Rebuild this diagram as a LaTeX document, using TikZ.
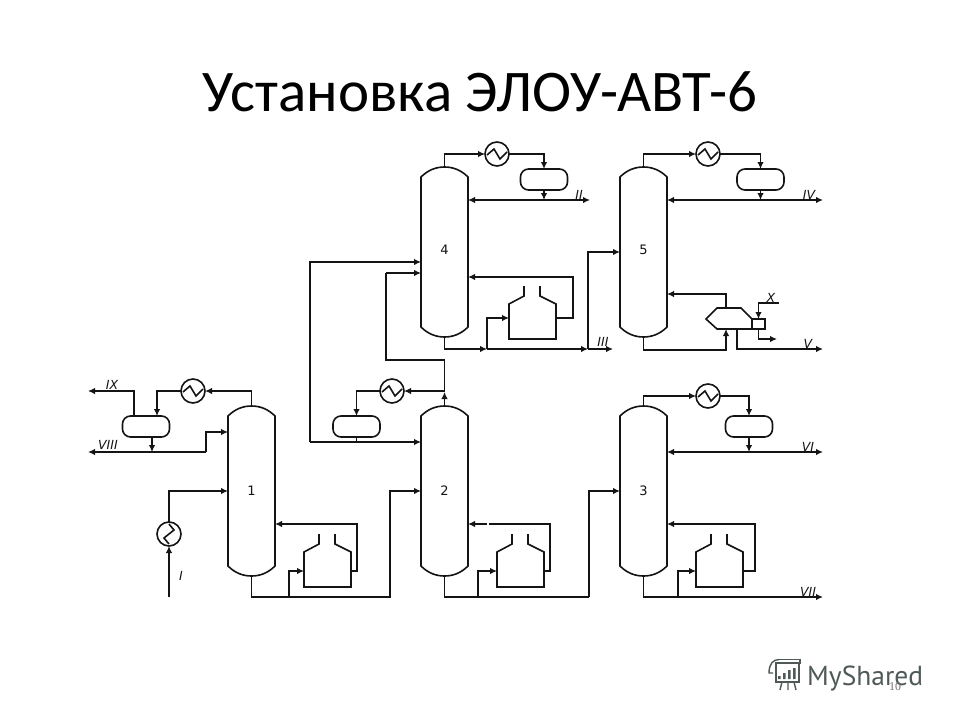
\documentclass[tikz,border=0pt]{standalone}
\usepackage{fontspec}
\setmainfont{DejaVu Sans}
\newfontfamily\titlefont{Carlito}
\newfontfamily\logofont{PT Sans}
\newfontfamily\numfont{Liberation Serif}
\usetikzlibrary{arrows.meta,calc}
\definecolor{ink}{HTML}{141414}
\definecolor{logogray}{HTML}{4F5A58}
\tikzset{
  pipe/.style={draw=ink,line width=1.6pt,line join=miter},
  flow/.style={pipe,-{Latex[length=7pt,width=6.5pt]}},
  vessel/.style={draw=ink,line width=1.6pt},
  colbox/.style={minimum width=47pt,minimum height=170pt,inner sep=0pt,outer sep=0pt,font=\fontsize{13}{15}\selectfont,text=ink},
  drumbox/.style={draw=ink,line width=1.6pt,rounded corners=8pt,minimum width=47pt,minimum height=21pt,inner sep=0pt,outer sep=0pt},
  hxbox/.style={draw=ink,line width=1.6pt,circle,minimum size=24pt,inner sep=0pt,outer sep=0pt},
  furnbox/.style={minimum width=47pt,minimum height=35pt,inner sep=0pt,outer sep=0pt},
  tag/.style={font=\fontsize{12.5}{14}\selectfont\itshape,text=ink,inner sep=0pt}
}
\newcommand{\columnshape}[1]{%
  \draw[vessel,shift={(#1.north west)}] (0,10) .. controls (7,3) and (15,0) .. (23.5,0)
    .. controls (32,0) and (40,3) .. (47,10) -- (47,160)
    .. controls (40,167) and (32,170) .. (23.5,170)
    .. controls (15,170) and (7,167) .. (0,160) -- cycle;}
\newcommand{\furnshape}[1]{%
  \draw[vessel,shift={(#1.north west)}] (15,-18) -- (15,-8) -- (0,0) -- (0,35) -- (47,35) -- (47,0) -- (31,-8) -- (31,-18);}
\newcommand{\zigh}[1]{\draw[vessel,shift={(#1.center)}] (-10,1) -- (-3,-5) -- (3,5) -- (10,-2);}
\newcommand{\zigv}[1]{\draw[vessel,shift={(#1.center)}] (0,10) -- (-5,4) -- (5,-4) -- (0,-10);}
\begin{document}
\begin{tikzpicture}[x=1pt,y=-1pt]
\useasboundingbox (0,0) rectangle (960,720);
\fill[white] (0,0) rectangle (960,720);
\node[font=\titlefont\fontsize{59}{64}\selectfont,text=black,inner sep=0pt] (title) at (480,92) {Установка ЭЛОУ-АВТ-6};

% columns
\node[colbox] (c1) at (251.5,491) {\raisebox{0pt}{1}};
\node[colbox] (c2) at (444.5,491) {2};
\node[colbox] (c3) at (643.5,491) {3};
\node[colbox] (c4) at (444.5,252) {\raisebox{5pt}{4}};
\node[colbox] (c5) at (643.5,252) {\raisebox{5pt}{5}};
\foreach \n in {c1,c2,c3,c4,c5} {\columnshape{\n}}

% heat exchangers
\node[hxbox] (h1) at (193,391) {};
\node[hxbox] (h2) at (392,391) {};
\node[hxbox] (h3) at (708,396) {};
\node[hxbox] (h4) at (497,154) {};
\node[hxbox] (h5) at (708,154) {};
\node[hxbox] (h0) at (169,534) {};
\foreach \n in {h1,h2,h3,h4,h5} {\zigh{\n}}
\zigv{h0}

% drums
\node[drumbox] (d1) at (146,426.5) {};
\node[drumbox] (d2) at (356.5,426.5) {};
\node[drumbox] (d3) at (749,426.5) {};
\node[drumbox] (d4) at (544,179.5) {};
\node[drumbox] (d5) at (760.5,179.5) {};

% furnaces
\node[furnbox] (f1) at (327.5,569.5) {};
\node[furnbox] (f2) at (520.5,569.5) {};
\node[furnbox] (f3) at (719.5,569.5) {};
\node[furnbox] (f4) at (532.5,321.5) {};
\foreach \n in {f1,f2,f3,f4} {\furnshape{\n}}

% kettle reboiler on column 5
\node[minimum width=13pt,minimum height=10pt,draw=ink,line width=1.6pt,inner sep=0pt,outer sep=0pt] (kb) at (758.5,324) {};
\draw[vessel] (kb.north west) -- (741,308) -- (717,308) -- (706,319) -- (717,329) -- (kb.south west);
\coordinate (ktop) at (726,308);
\coordinate (kbot) at (726,329);
\coordinate (kout) at (737,329);

% ---- column 1
\coordinate (ix) at (88,391);
\coordinate (viii) at (88,452);
\coordinate (feed) at (169,597);
\coordinate (m1) at (206,452);
\draw[flow] (c1.north) |- (h1.east);
\draw[flow] (h1.west) -| (d1.north -| 157,0);
\draw[flow] (d1.north -| 134,0) |- (ix);
\draw[flow] (d1.south -| 152,0) -- (152,452);
\draw[flow] (m1) -- (viii);
\draw[flow] (m1) |- (c1.west |- 0,432);
\draw[flow] (feed) -- (h0.south);
\draw[flow] (h0.north) |- (c1.west |- 0,491);
\draw[flow] (f1.east |- 0,571) -- (357,571) |- (c1.east |- 0,524);
\draw[pipe] (c1.south) |- (390,597) |- (390,491);
\coordinate (b1) at (289,597);
\draw[flow] (b1) |- (f1.west |- 0,571);
\draw[flow] (390,597) |- (c2.west |- 0,491);

% ---- column 2
\coordinate (j2) at (444.5,391);
\coordinate (r2) at (310,442);
\draw[flow] (c2.north) -- (444.5,392);
\draw[pipe] (444.5,392) -- (444.5,360) -| (386,273);
\draw[flow] (386,273) -- (c4.west |- 0,273);
\draw[flow] (j2) -- (h2.east);
\draw[flow] (h2.west) -| (d2.north);
\draw[pipe] (d2.south) -- (356.5,442);
\draw[flow] (r2) -- (c2.west |- 0,442);
\draw[flow] (r2) |- (c4.west |- 0,262);
\draw[pipe] (f2.east |- 0,571) -- (550,571) |- (489,524);
\draw[flow] (487,524) -- (c2.east |- 0,524);
\draw[pipe] (c2.south) |- (589,597);
\coordinate (b2) at (478,597);
\draw[flow] (b2) |- (f2.west |- 0,571);
\draw[flow] (589,597) |- (c3.west |- 0,491);

% ---- column 3
\coordinate (vi) at (823,452);
\coordinate (vii) at (823,597);
\draw[flow] (c3.north) |- (h3.west);
\draw[flow] (h3.east) -| (d3.north);
\draw[flow] (d3.south) -- (749,452);
\draw[flow] (749,452) -- (c3.east |- 0,452);
\draw[flow] (749,452) -- (vi);
\draw[flow] (f3.east |- 0,571) -- (755,571) |- (c3.east |- 0,524);
\draw[flow] (c3.south) |- (vii);
\coordinate (b3) at (678,597);
\draw[flow] (b3) |- (f3.west |- 0,571);

% ---- column 4
\coordinate (ii) at (590,200);
\coordinate (iii) at (613,349);
\coordinate (b4) at (487,349);
\coordinate (b5) at (588,349);
\draw[flow] (c4.north) |- (h4.west);
\draw[flow] (h4.east) -| (d4.north);
\draw[flow] (d4.south) -- (544,200);
\draw[flow] (544,200) -- (c4.east |- 0,200);
\draw[flow] (544,200) -- (ii);
\draw[flow] (f4.east |- 0,318) -- (573,318) |- (c4.east |- 0,277);
\draw[flow] (c4.south) |- (b4);
\draw[flow] (b4) -- (b5);
\draw[flow] (b5) -- (iii);
\draw[flow] (b4) |- (f4.west |- 0,318);
\draw[flow] (b5) |- (c5.west |- 0,252);

% ---- column 5
\coordinate (iv) at (823,200);
\coordinate (v) at (823,349);
\coordinate (xin) at (779,303);
\coordinate (xout) at (777,339);
\draw[flow] (c5.north) |- (h5.west);
\draw[flow] (h5.east) -| (d5.north);
\draw[flow] (d5.south) -- (760.5,200);
\draw[flow] (760.5,200) -- (c5.east |- 0,200);
\draw[flow] (760.5,200) -- (iv);
\draw[flow] (ktop) |- (c5.east |- 0,294);
\draw[flow] (c5.south) -- (643.5,350) -| (kbot);
\draw[flow] (kout) |- (v);
\draw[flow] (xin) -| (kb.north);
\draw[flow] (kb.south) |- (xout);

% stream labels
\node[tag] (tI) at (181,576) {I};
\node[tag] (tII) at (579,195) {II};
\node[tag] (tIII) at (603,342) {III};
\node[tag] (tIV) at (809,195) {IV};
\node[tag] (tV) at (808,344) {V};
\node[tag] (tVI) at (808,447) {VI};
\node[tag] (tVII) at (808,592) {VII};
\node[tag] (tVIII) at (108,445) {VIII};
\node[tag] (tIX) at (112,385) {IX};
\node[tag] (tX) at (771,298) {X};

% logo
\begin{scope}[draw=logogray,line width=1.4pt]
  \draw (779,659.5) -- (800,659.5) -- (800,663) -- (776,663) -- (776,682) -- (799,682) -- (799,663);
  \draw (779,659.5) .. controls (773,659.5) and (769,664) .. (769,673) -- (773,673);
  \draw (782,682) -- (780,690) (788,682) -- (788,690) (794,682) -- (796,690);
  \fill[logogray] (778,676) rectangle (780.5,679) (783,673) rectangle (785.5,679) (788,670) rectangle (790.5,679) (793,668) rectangle (795.5,679);
\end{scope}
\node[font=\logofont\fontsize{27.5}{30}\selectfont,text=logogray,inner sep=0pt,anchor=base west] (logo) at (807,685) {MyShared};
\node[font=\numfont\fontsize{12}{14}\selectfont,text=black!55,inner sep=0pt] (pg) at (895,687) {10};
\end{tikzpicture}
\end{document}
